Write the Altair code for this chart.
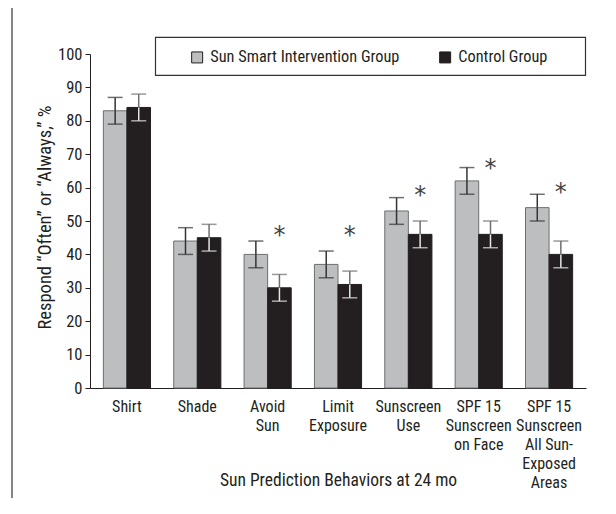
import altair as alt
import pandas as pd

categories = [
    "Shirt",
    "Shade",
    "Avoid\nSun",
    "Limit\nExposure",
    "Sunscreen\nUse",
    "SPF 15\nSunscreen\non Face",
    "SPF 15\nSunscreen\nAll Sun-\nExposed\nAreas",
]
groups = ["Sun Smart Intervention Group", "Control Group"]
intervention_pct = [83, 44, 40, 37, 53, 62, 54]
control_pct = [84, 45, 30, 31, 46, 46, 40]
intervention_err = [4, 4, 4, 4, 4, 4, 4]
control_err = [4, 4, 4, 4, 4, 4, 4]
star_categories = ["Avoid\nSun", "Limit\nExposure", "Sunscreen\nUse",
                   "SPF 15\nSunscreen\non Face",
                   "SPF 15\nSunscreen\nAll Sun-\nExposed\nAreas"]
star_heights = [47, 47, 59, 67, 60]

rows = []
for i, c in enumerate(categories):
    rows.append({"cat": c, "group": groups[0], "pct": intervention_pct[i],
                 "lo": intervention_pct[i] - intervention_err[i],
                 "hi": intervention_pct[i] + intervention_err[i]})
    rows.append({"cat": c, "group": groups[1], "pct": control_pct[i],
                 "lo": control_pct[i] - control_err[i],
                 "hi": control_pct[i] + control_err[i]})
df = pd.DataFrame(rows)
stars = pd.DataFrame({"cat": star_categories, "group": groups[1],
                      "y": star_heights, "t": "*"})

FONT = "Liberation Sans Narrow, Arial Narrow, Roboto Condensed, DejaVu Sans Condensed, sans-serif"
INK = "#231f20"
GRAY = "#bcbec0"

x_scale = alt.Scale(domain=categories, paddingInner=0.33, paddingOuter=0.19)
x_axis = alt.Axis(
    title="Sun Prediction Behaviors at 24 mo",
    labelAngle=0, ticks=False, tickSize=0, labelPadding=10,
    labelExpr="split(datum.label, '\\n')", labelLineHeight=19,
    labelBaseline="top", labelAlign="center",
    titleY=97, titleBaseline="alphabetic", titleFontSize=17.5,
)
xo_enc = alt.XOffset("group:N", sort=groups, scale=alt.Scale(domain=groups))
y_scale = alt.Scale(domain=[0, 100], nice=False)
y_axis = alt.Axis(
    title="Respond \u201cOften\u201d or \u201cAlways,\u201d %",
    values=[0, 10, 20, 30, 40, 50, 60, 70, 80, 90, 100],
    labelOverlap=False, tickSize=5, labelPadding=3, labelFontSize=16.5,
    titleAngle=-90, titleX=-40, titleY=163, titleFontSize=18.5,
    titleBaseline="alphabetic", titleAlign="center",
)


def xe():
    return alt.X("cat:N", sort=categories, scale=x_scale, axis=x_axis)


def ye(field):
    return alt.Y(field, scale=y_scale, axis=y_axis)


is_int = alt.datum.group == groups[0]

bars = alt.Chart(df).mark_bar(strokeWidth=1).encode(
    x=xe(), xOffset=xo_enc, y=ye("pct:Q"),
    color=alt.Color(
        "group:N", sort=groups,
        scale=alt.Scale(domain=groups, range=[GRAY, INK]),
        legend=alt.Legend(
            title=None, orient="none", legendX=99, legendY=-5,
            direction="horizontal", symbolType="square", symbolSize=121,
            symbolStrokeColor=INK, symbolStrokeWidth=1, labelFontSize=16.3,
            labelOffset=5, columnPadding=37, padding=0, labelLimit=400,
            labelColor=INK,
        ),
    ),
    stroke=alt.condition(is_int, alt.value("#6d6e71"), alt.value(INK)),
)

whisk_lo = alt.Chart(df).mark_rule(strokeWidth=1.5).encode(
    x=xe(), xOffset=xo_enc, y=ye("lo:Q"), y2="pct:Q",
    color=alt.condition(is_int, alt.value("#333333"), alt.value("#e6e6e6")),
)
whisk_hi = alt.Chart(df).mark_rule(strokeWidth=1.5).encode(
    x=xe(), xOffset=xo_enc, y=ye("pct:Q"), y2="hi:Q",
    color=alt.condition(is_int, alt.value("#333333"), alt.value("#6d6e71")),
)
cap_lo = alt.Chart(df).mark_tick(orient="horizontal", size=15, thickness=1.5).encode(
    x=xe(), xOffset=xo_enc, y=ye("lo:Q"),
    color=alt.condition(is_int, alt.value("#333333"), alt.value("#e6e6e6")),
)
cap_hi = alt.Chart(df).mark_tick(orient="horizontal", size=15, thickness=1.5).encode(
    x=xe(), xOffset=xo_enc, y=ye("hi:Q"),
    color=alt.condition(is_int, alt.value("#333333"), alt.value("#6d6e71")),
)

star_marks = alt.Chart(stars).mark_text(
    fontSize=24, baseline="middle", dy=5, color="#444444", font="DejaVu Sans"
).encode(x=xe(), xOffset=xo_enc, y=ye("y:Q"), text="t:N")

frame = alt.Chart(pd.DataFrame({"k": [0]})).mark_rect(
    fillOpacity=0, stroke="#333333", strokeWidth=1.2
).encode(x=alt.value(-78), x2=alt.value(700), y=alt.value(-48), y2=alt.value(700))

legend_box = alt.Chart(pd.DataFrame({"k": [0]})).mark_rect(
    fillOpacity=0, stroke="#333333", strokeWidth=1.2
).encode(x=alt.value(65.5), x2=alt.value(495.5), y=alt.value(-16.7), y2=alt.value(21.3))

chart = alt.layer(
    frame, legend_box, bars, whisk_lo, whisk_hi, cap_lo, cap_hi, star_marks
).properties(
    width=496, height=334,
    autosize=alt.AutoSizeParams(type="none"),
    padding={"left": 82, "top": 46, "right": 22, "bottom": 110},
).configure(
    font=FONT, background="white"
).configure_view(
    stroke=None
).configure_axis(
    grid=False, domainColor=INK, tickColor=INK, labelColor=INK, titleColor=INK,
    labelFontSize=16, titleFontSize=16, titleFontWeight="normal",
    domainWidth=1, tickWidth=1,
)

chart.save("out.html", embed_options={"renderer": "svg", "actions": False})
